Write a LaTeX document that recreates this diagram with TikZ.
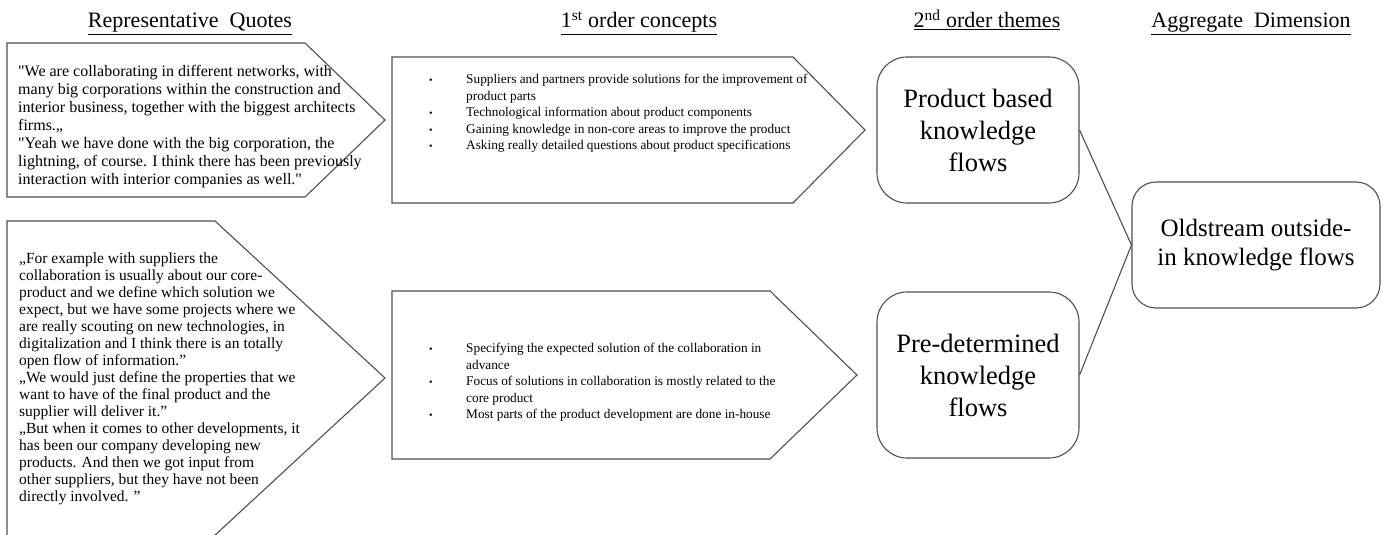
\documentclass[tikz,border=0pt]{standalone}
\usepackage{fontspec}
\setmainfont{Liberation Serif}
% same face without the TeX ligature mapping, for straight double quotes
\newfontfamily\plainquote{Liberation Serif}
\definecolor{edgegray}{RGB}{80,80,80}
\newcommand{\dq}{{\plainquote"}}
\newcommand{\bul}{\makebox[38pt][l]{\hspace*{1pt}{\fontsize{10}{10}\selectfont\textbullet}}}
\newcommand{\bulskip}{\hspace*{38pt}}
\tikzset{
  outline/.style={draw=edgegray, line width=1.1pt, line join=miter},
  header/.style={anchor=base, inner sep=0pt, font=\fontsize{22}{26}\selectfont},
  quotetext/.style={anchor=north west, inner sep=0pt, align=left},
  concepttext/.style={anchor=north west, inner sep=0pt, align=left, font=\fontsize{13.3}{16.5}\selectfont},
  themebox/.style={outline, rounded corners=30pt, align=center, inner sep=0pt,
    minimum width=202pt, font=\fontsize{26.5}{32}\selectfont},
  aggbox/.style={outline, rounded corners=24pt, align=center, inner sep=0pt,
    minimum width=248pt, minimum height=126pt, font=\fontsize{25}{29}\selectfont},
  link/.style={draw=edgegray, line width=1.1pt}
}
\begin{document}
\begin{tikzpicture}[x=1pt, y=-1pt]
\useasboundingbox (0,0) rectangle (1383,535);
\fill[white] (0,0) rectangle (1383,535);

% column headings
\node[header] (h1) at (190,28) {\underline{Representative\ \ Quotes}};
\node[header] (h2) at (639,28) {\underline{1\textsuperscript{st} order concepts}};
\node[header] (h3) at (987,28) {\underline{2\textsuperscript{nd} order themes}};
\node[header] (h4) at (1251,28) {\underline{Aggregate\ \ Dimension}};

% quote panels
\draw[outline] (7,43) -- (305,43) -- (385,120) -- (305,197) -- (7,197) -- cycle;
\draw[outline] (7,537) -- (7,221) -- (215,221) -- (385,378) -- (213,537);

\node[quotetext, font=\fontsize{16}{18}\selectfont] (q1) at (18,65) {%
\dq We are collaborating in different networks, with\\
many big corporations within the construction and\\
interior business, together with the biggest architects\\
firms.„\\
\dq Yeah we have done with the big corporation, the\\
lightning, of course. I think there has been previously\\
interaction with interior companies as well.\dq};

\node[quotetext, font=\fontsize{15.5}{17}\selectfont] (q2) at (19,253) {%
„For example with suppliers the\\
collaboration is usually about our core-\\
product and we define which solution we\\
expect, but we have some projects where we\\
are really scouting on new technologies, in\\
digitalization and I think there is an totally\\
open flow of information.”\\
„We would just define the properties that we\\
want to have of the final product and the\\
supplier will deliver it.”\\
„But when it comes to other developments, it\\
has been our company developing new\\
products. And then we got input from\\
other suppliers, but they have not been\\
directly involved. ”};

% first order concept panels
\draw[outline] (392,57) -- (793,57) -- (865,130) -- (793,203) -- (392,203) -- cycle;
\draw[outline] (392,291) -- (770,291) -- (857,375) -- (770,459) -- (392,459) -- cycle;

\node[concepttext] (c1) at (428,74) {%
\bul Suppliers and partners provide solutions for the improvement of\\
\bulskip product parts\\
\bul Technological information about product components\\
\bul Gaining knowledge in non-core areas to improve the product\\
\bul Asking really detailed questions about product specifications};

\node[concepttext] (c2) at (428,343) {%
\bul Specifying the expected solution of the collaboration in\\
\bulskip advance\\
\bul Focus of solutions in collaboration is mostly related to the\\
\bulskip core product\\
\bul Most parts of the product development are done in-house};

% second order themes and aggregate dimension
\node[themebox, minimum height=146pt] (t1) at (978,130) {Product based\\knowledge\\flows};
\node[themebox, minimum height=166pt] (t2) at (978,375) {Pre-determined\\knowledge\\flows};
\node[aggbox] (agg) at (1256,245) {Oldstream outside-\\in knowledge flows};

\draw[link] (t1.east) -- (agg.west);
\draw[link] (t2.east) -- (agg.west);
\end{tikzpicture}
\end{document}
